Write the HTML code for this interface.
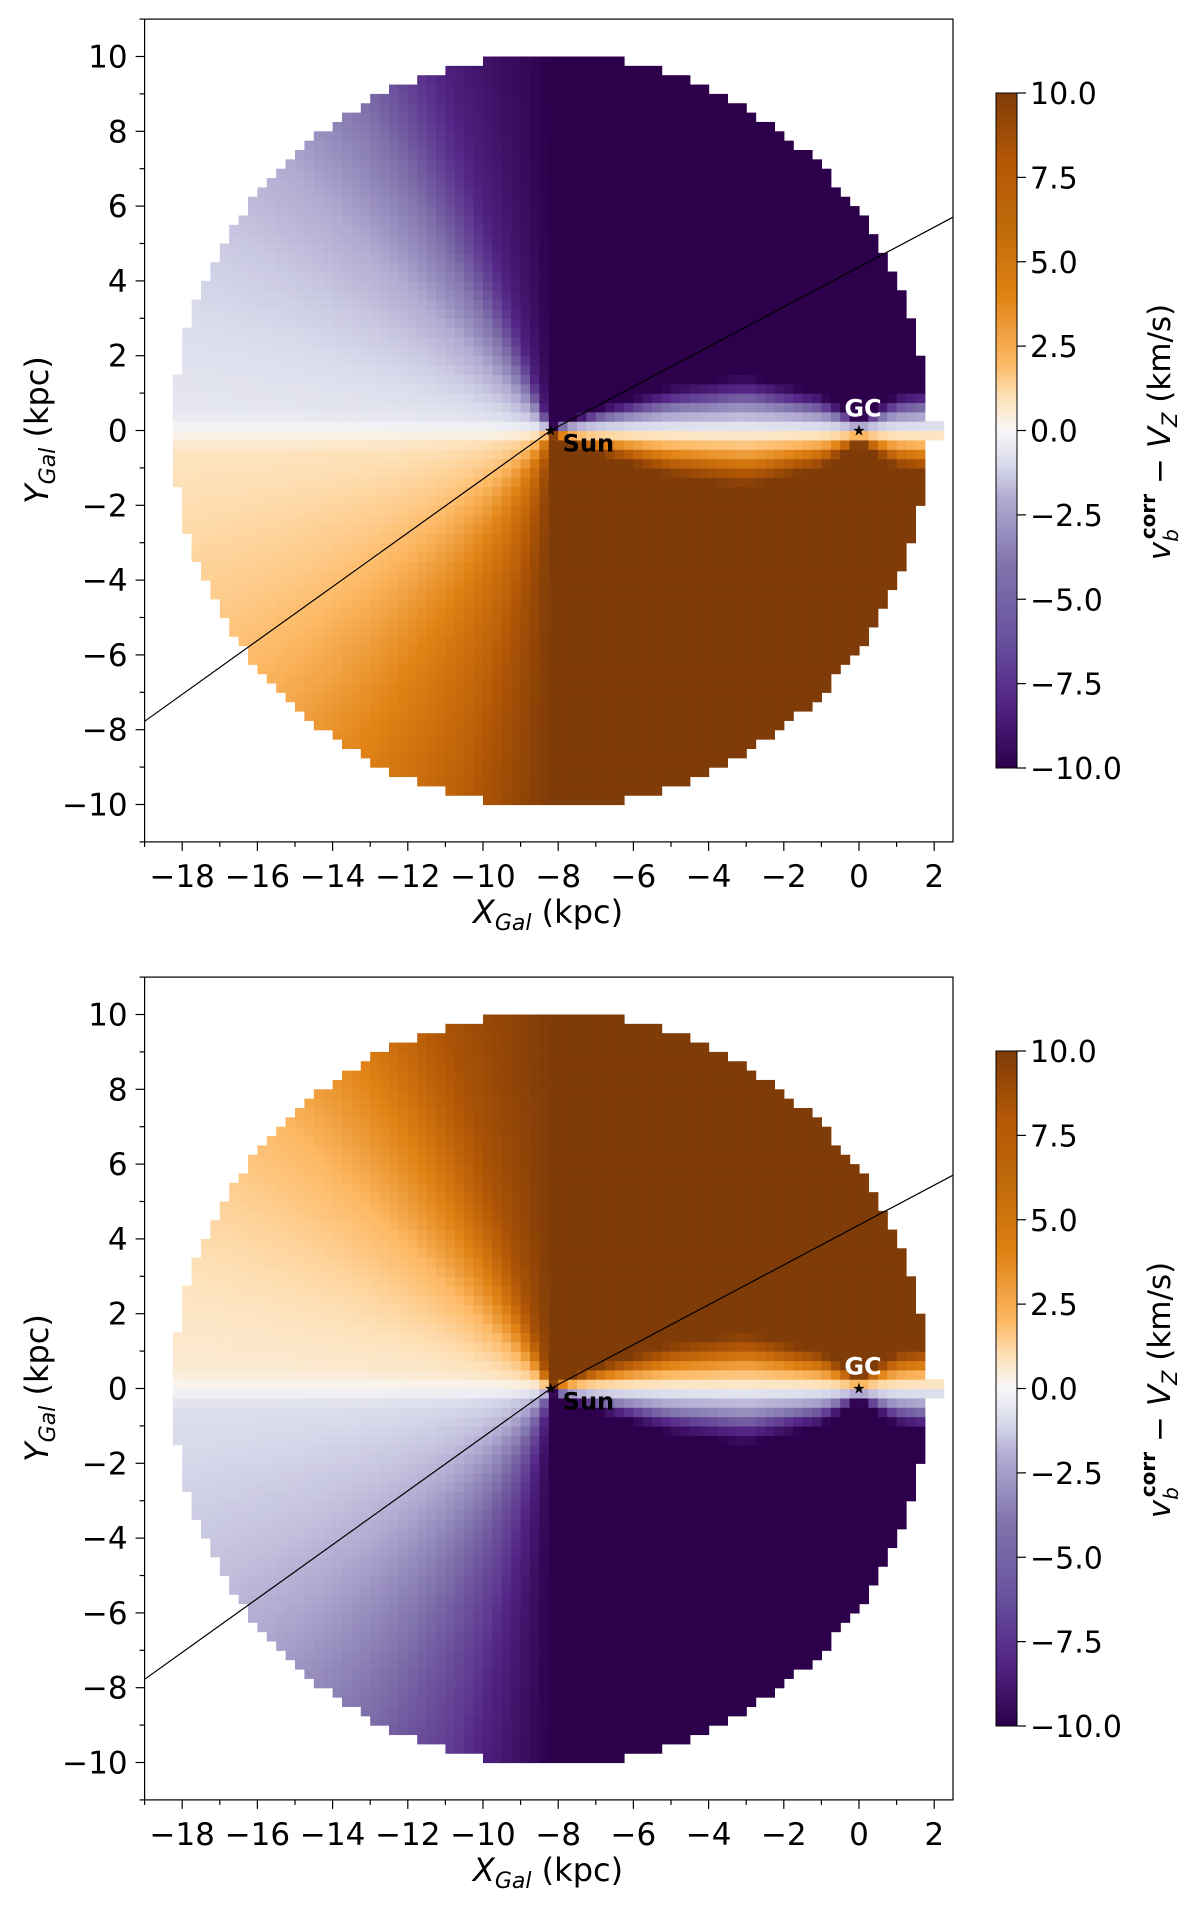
<!DOCTYPE html>
<html><head><meta charset="utf-8">
<style>
html,body{margin:0;padding:0;background:#fff;}
svg{display:block;font-family:"DejaVu Sans","Liberation Sans",sans-serif;}
</style></head>
<body>
<svg id="fig" width="1200" height="1914" viewBox="0 0 1200 1914" xmlns="http://www.w3.org/2000/svg">
<defs>
<linearGradient id="puor" x1="0" y1="1" x2="0" y2="0">
<stop offset="0" stop-color="#2d004b"/><stop offset="0.1" stop-color="#542788"/><stop offset="0.2" stop-color="#6a55a0"/>
<stop offset="0.3" stop-color="#8073ac"/><stop offset="0.4" stop-color="#b2abd2"/><stop offset="0.45" stop-color="#d8daeb"/>
<stop offset="0.5" stop-color="#f7f7f7"/><stop offset="0.55" stop-color="#fee0b6"/><stop offset="0.6" stop-color="#fdb863"/>
<stop offset="0.7" stop-color="#e08214"/><stop offset="0.8" stop-color="#c06a0a"/><stop offset="0.9" stop-color="#b35806"/><stop offset="1" stop-color="#7f3b08"/>
</linearGradient>
</defs>
</svg>
<script>
// ---- data ----
const sunPos = [-8.2, 0];
const gcPos = [0, 0];
const angleDeg = [0, 15, 30, 45, 60, 75, 90, 105, 120, 135, 150, 165, 180];
const ampUpper = [10, 10, 10, 10, 10, 10, 10, 8.5, 6, 4, 2.7, 1.7, 1];
const ampLower = [10, 10, 10, 10, 10, 10, 10, 7.5, 6, 4.5, 3.2, 2.3, 1.5];
const bandX = [-18, -14, -10, -8.2, -7, -5, -3, -1, 0, 1, 2];
const bandW = [0.5, 0.5, 0.4, 0.1, 0.6, 1.2, 1.5, 1.0, 0.3, 1.0, 1.2];
const panelSign = [1, -1];
const xTicks = [-18, -16, -14, -12, -10, -8, -6, -4, -2, 0, 2];
const yTicks = [10, 8, 6, 4, 2, 0, -2, -4, -6, -8, -10];
const cbTicks = [10, 7.5, 5, 2.5, 0, -2.5, -5, -7.5, -10];
const lineSlopeLeft = 0.72, lineSlopeRight = 0.533;
const cmapColors = ['#2d004b','#542788','#8073ac','#b2abd2','#d8daeb','#f7f7f7','#fee0b6','#fdb863','#e08214','#b35806','#7f3b08'];

const NS = 'http://www.w3.org/2000/svg';
const svg = document.getElementById('fig');
function mk(tag, attrs, parent, text) {
  const e = document.createElementNS(NS, tag);
  for (const k in attrs) e.setAttribute(k, attrs[k]);
  if (text !== undefined) e.textContent = text;
  (parent || svg).appendChild(e);
  return e;
}
function interp(xs, ys, x) {
  if (x <= xs[0]) return ys[0];
  for (let i = 1; i < xs.length; i++) if (x <= xs[i]) { const t = (x - xs[i-1]) / (xs[i] - xs[i-1]); return ys[i-1] + t * (ys[i] - ys[i-1]); }
  return ys[ys.length - 1];
}
function hex(h){return [parseInt(h.substr(1,2),16),parseInt(h.substr(3,2),16),parseInt(h.substr(5,2),16)];}
const cm = cmapColors.map(hex);
function color(v) {
  let t = (Math.max(-10, Math.min(10, v)) + 10) / 20 * 10;
  const i = Math.min(9, Math.floor(t)), f = t - i;
  const c = cm[i].map((a, k) => Math.round(a + (cm[i+1][k] - a) * f));
  return 'rgb(' + c.join(',') + ')';
}
function fmt(v){return (v<0?'\u2212':'')+Math.abs(v);}
function fmt1(v){return (v<0?'\u2212':'')+Math.abs(v).toFixed(1);}

const sx = 37.6, sy = 37.4;
function makePanel(p) {
  const off = p * 958;
  const sign = panelSign[p];
  const X = x => 859 + x * sx;
  const Y = y => off + 430.5 - y * sy;
  const g = mk('g', {}, svg);
  
  
  const hm = mk('g', {}, g);
  
  
  const bin = 0.25;
  for (let xi = 0; xi < 82; xi++) {
    for (let yi = 0; yi < 80; yi++) {
      const x0 = -18.25 + xi * bin, y0 = -10 + yi * bin;
      const cx = x0 + bin / 2, cy = y0 + bin / 2;
      const r = Math.hypot(cx - sunPos[0], cy);
      const inStrip = (yi === 39 || yi === 40) && cx < 2.3;
      if (r > 10.05 && !inStrip) continue;
      const dx = cx - sunPos[0], dy = cy;
      const ang = Math.abs(Math.atan2(dy, dx)) * 180 / Math.PI;
      const amp = interp(angleDeg, dy > 0 ? ampUpper : ampLower, ang);
      const w = interp(bandX, bandW, cx);
      let frac = Math.min(1, Math.abs(cy) / Math.max(0.05, w));
      frac = Math.pow(frac, 0.8);
      const v = (dy > 0 ? -1 : 1) * sign * amp * frac;
      mk('rect', {x: X(x0).toFixed(2), y: Y(y0 + bin).toFixed(2), width: (bin * sx + 0.6).toFixed(2), height: (bin * sy + 0.6).toFixed(2), fill: color(v)}, hm);
    }
  }
  const sl = mk('polyline', {points: [X(-19), Y(sunPos[1] + (-19 - sunPos[0]) * lineSlopeLeft), X(sunPos[0]), Y(sunPos[1]), X(2.5), Y((2.5 - sunPos[0]) * lineSlopeRight)].join(' '), fill: 'none', stroke: '#000', 'stroke-width': 1.2}, g);
  
  
  [[sunPos, 'sun-marker'], [gcPos, 'gc-marker']].forEach(([pp, nm]) => {
    const t = mk('text', {x: X(pp[0]), y: Y(pp[1]) + 5, 'font-size': 15, 'text-anchor': 'middle', fill: '#000'}, g, '\u2605');
    
    
  });
  const st = mk('text', {x: X(sunPos[0]) + 12, y: Y(0) + 21, 'font-size': 24, 'font-weight': 'bold', fill: '#000'}, g, 'Sun');
  
  
  const gt = mk('text', {x: X(0) + 4, y: Y(0) - 14, 'font-size': 24, 'font-weight': 'bold', 'text-anchor': 'middle', fill: '#fff'}, g, 'GC');
  
  
  const fr = mk('rect', {x: X(-19), y: Y(11), width: X(2.5) - X(-19), height: Y(-11) - Y(11), fill: 'none', stroke: '#000', 'stroke-width': 1.2}, g);
  
  
  for (let x = -19; x <= 2; x++) {
    const major = x % 2 === 0;
    mk('line', {x1: X(x), x2: X(x), y1: Y(-11), y2: Y(-11) + (major ? 9 : 5), stroke: '#000', 'stroke-width': 1.2}, g);
  }
  for (let y = -11; y <= 11; y++) {
    const major = y % 2 === 0;
    mk('line', {x1: X(-19), x2: X(-19) - (major ? 9 : 5), y1: Y(y), y2: Y(y), stroke: '#000', 'stroke-width': 1.2}, g);
  }
  xTicks.forEach(v => {
    const t = mk('text', {x: X(v), y: Y(-11) + 45, 'font-size': 31, 'text-anchor': 'middle'}, g, fmt(v));
    
    
  });
  yTicks.forEach(v => {
    const t = mk('text', {x: X(-19) - 17, y: Y(v) + 11, 'font-size': 31, 'text-anchor': 'end'}, g, fmt(v));
    
    
  });
  const xt = mk('text', {x: 548, y: off + 923, 'font-size': 32, 'text-anchor': 'middle'}, g);
  
  
  mk('tspan', {'font-style': 'italic'}, xt, 'X');
  mk('tspan', {'font-style': 'italic', 'font-size': 22, dy: 7}, xt, 'Gal');
  mk('tspan', {dy: -7}, xt, ' (kpc)');
  const yt = mk('text', {x: 0, y: 0, 'font-size': 32, 'text-anchor': 'middle', transform: 'translate(48,' + (off + 430) + ') rotate(-90)'}, g);
  
  
  mk('tspan', {'font-style': 'italic'}, yt, 'Y');
  mk('tspan', {'font-style': 'italic', 'font-size': 22, dy: 7}, yt, 'Gal');
  mk('tspan', {dy: -7}, yt, ' (kpc)');
  const cbT = off + 93, cbB = off + 768;
  const cb = mk('rect', {x: 996, y: cbT, width: 21, height: cbB - cbT, fill: 'url(#puor)', stroke: '#000', 'stroke-width': 1}, g);
  
  
  cbTicks.forEach(v => {
    const yy = cbT + (10 - v) / 20 * (cbB - cbT);
    mk('line', {x1: 1017, x2: 1026, y1: yy, y2: yy, stroke: '#000', 'stroke-width': 1.2}, g);
    const t = mk('text', {x: 1030, y: yy + 11, 'font-size': 30}, g, fmt1(v));
    
    
  });
  const ct = mk('text', {x: 0, y: 0, 'font-size': 31, 'text-anchor': 'middle', transform: 'translate(1170,' + (off + 432) + ') rotate(-90)'}, g);
  
  
  mk('tspan', {'font-style': 'italic'}, ct, 'v');
  mk('tspan', {'font-size': 20, dy: 8, 'font-style': 'italic'}, ct, 'b');
  mk('tspan', {'font-size': 20, dy: -23, dx: -10, 'font-weight': 'bold'}, ct, 'corr');
  mk('tspan', {dy: 15}, ct, ' \u2212 ');
  mk('tspan', {'font-style': 'italic'}, ct, 'V');
  mk('tspan', {'font-size': 21, dy: 7, 'font-style': 'italic'}, ct, 'Z');
  mk('tspan', {dy: -7}, ct, ' (km/s)');
}
makePanel(0);
makePanel(1);
</script>
</body></html>
